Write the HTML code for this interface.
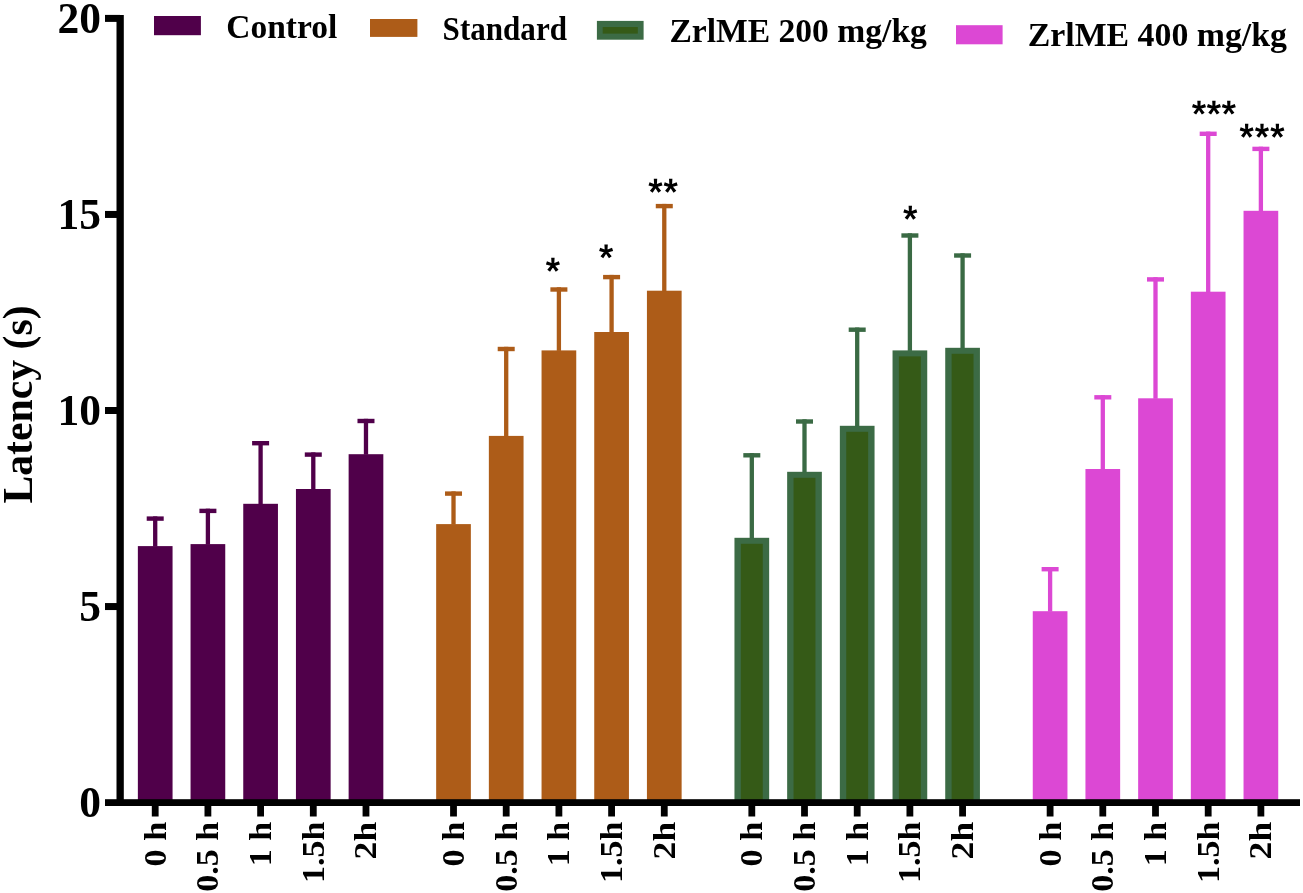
<!DOCTYPE html>
<html><head><meta charset="utf-8"><style>
html,body{margin:0;padding:0;background:#fff;}
svg{display:block;will-change:transform;}
text{font-family:"Liberation Serif",serif;font-weight:bold;fill:#000;}
.yl{font-size:43.5px;}
.xl{font-size:32px;}
.yt{font-size:43px;}
.lg{font-size:33.5px;}
.st{font-family:"Liberation Sans",sans-serif;font-size:37px;}
</style></head><body>
<svg width="1303" height="893" viewBox="0 0 1303 893">
<rect width="1303" height="893" fill="#fff"/>
<rect x="137.86" y="546.10" width="34.7" height="254.10" fill="#50004a"/>
<rect x="153.06" y="516.40" width="4.3" height="30.20" fill="#50004a"/>
<rect x="146.71" y="516.40" width="17" height="4.4" fill="#50004a"/>
<rect x="151.81" y="805.50" width="6.8" height="11.00" fill="#000"/>
<text class="xl" transform="translate(165.61,821.8) rotate(-90)" text-anchor="end" textLength="44.7" lengthAdjust="spacingAndGlyphs">0 h</text>
<rect x="190.55" y="544.10" width="34.7" height="256.10" fill="#50004a"/>
<rect x="205.75" y="508.70" width="4.3" height="35.90" fill="#50004a"/>
<rect x="199.40" y="508.70" width="17" height="4.4" fill="#50004a"/>
<rect x="204.50" y="805.50" width="6.8" height="11.00" fill="#000"/>
<text class="xl" transform="translate(218.30,821.8) rotate(-90)" text-anchor="end" textLength="69.9" lengthAdjust="spacingAndGlyphs">0.5 h</text>
<rect x="243.25" y="503.80" width="34.7" height="296.40" fill="#50004a"/>
<rect x="258.45" y="441.00" width="4.3" height="63.30" fill="#50004a"/>
<rect x="252.10" y="441.00" width="17" height="4.4" fill="#50004a"/>
<rect x="257.20" y="805.50" width="6.8" height="11.00" fill="#000"/>
<text class="xl" transform="translate(271.00,821.8) rotate(-90)" text-anchor="end" textLength="44.4" lengthAdjust="spacingAndGlyphs">1 h</text>
<rect x="295.94" y="489.00" width="34.7" height="311.20" fill="#50004a"/>
<rect x="311.14" y="452.40" width="4.3" height="37.10" fill="#50004a"/>
<rect x="304.79" y="452.40" width="17" height="4.4" fill="#50004a"/>
<rect x="309.89" y="805.50" width="6.8" height="11.00" fill="#000"/>
<text class="xl" transform="translate(323.69,821.8) rotate(-90)" text-anchor="end" textLength="61.1" lengthAdjust="spacingAndGlyphs">1.5h</text>
<rect x="348.63" y="454.20" width="34.7" height="346.00" fill="#50004a"/>
<rect x="363.83" y="418.80" width="4.3" height="35.90" fill="#50004a"/>
<rect x="357.48" y="418.80" width="17" height="4.4" fill="#50004a"/>
<rect x="362.58" y="805.50" width="6.8" height="11.00" fill="#000"/>
<text class="xl" transform="translate(376.38,821.8) rotate(-90)" text-anchor="end" textLength="37.6" lengthAdjust="spacingAndGlyphs">2h</text>
<rect x="436.16" y="524.10" width="34.7" height="276.10" fill="#ad5c18"/>
<rect x="451.36" y="491.40" width="4.3" height="33.20" fill="#ad5c18"/>
<rect x="445.01" y="491.40" width="17" height="4.4" fill="#ad5c18"/>
<rect x="450.11" y="805.50" width="6.8" height="11.00" fill="#000"/>
<text class="xl" transform="translate(463.91,821.8) rotate(-90)" text-anchor="end" textLength="44.7" lengthAdjust="spacingAndGlyphs">0 h</text>
<rect x="488.85" y="435.90" width="34.7" height="364.30" fill="#ad5c18"/>
<rect x="504.05" y="346.80" width="4.3" height="89.60" fill="#ad5c18"/>
<rect x="497.70" y="346.80" width="17" height="4.4" fill="#ad5c18"/>
<rect x="502.80" y="805.50" width="6.8" height="11.00" fill="#000"/>
<text class="xl" transform="translate(516.60,821.8) rotate(-90)" text-anchor="end" textLength="69.9" lengthAdjust="spacingAndGlyphs">0.5 h</text>
<rect x="541.55" y="350.40" width="34.7" height="449.80" fill="#ad5c18"/>
<rect x="556.75" y="287.30" width="4.3" height="63.60" fill="#ad5c18"/>
<rect x="550.40" y="287.30" width="17" height="4.4" fill="#ad5c18"/>
<rect x="555.50" y="805.50" width="6.8" height="11.00" fill="#000"/>
<text class="xl" transform="translate(569.30,821.8) rotate(-90)" text-anchor="end" textLength="44.4" lengthAdjust="spacingAndGlyphs">1 h</text>
<rect x="594.24" y="332.00" width="34.7" height="468.20" fill="#ad5c18"/>
<rect x="609.44" y="274.90" width="4.3" height="57.60" fill="#ad5c18"/>
<rect x="603.09" y="274.90" width="17" height="4.4" fill="#ad5c18"/>
<rect x="608.19" y="805.50" width="6.8" height="11.00" fill="#000"/>
<text class="xl" transform="translate(621.99,821.8) rotate(-90)" text-anchor="end" textLength="61.1" lengthAdjust="spacingAndGlyphs">1.5h</text>
<rect x="646.93" y="290.70" width="34.7" height="509.50" fill="#ad5c18"/>
<rect x="662.13" y="203.90" width="4.3" height="87.30" fill="#ad5c18"/>
<rect x="655.78" y="203.90" width="17" height="4.4" fill="#ad5c18"/>
<rect x="660.88" y="805.50" width="6.8" height="11.00" fill="#000"/>
<text class="xl" transform="translate(674.68,821.8) rotate(-90)" text-anchor="end" textLength="37.6" lengthAdjust="spacingAndGlyphs">2h</text>
<rect x="734.46" y="537.80" width="34.7" height="262.40" fill="#3c6b45"/>
<rect x="740.86" y="543.80" width="21.90" height="256.40" fill="#355a17"/>
<rect x="749.66" y="453.10" width="4.3" height="85.20" fill="#3a6a44"/>
<rect x="743.31" y="453.10" width="17" height="4.4" fill="#3a6a44"/>
<rect x="748.41" y="805.50" width="6.8" height="11.00" fill="#000"/>
<text class="xl" transform="translate(762.21,821.8) rotate(-90)" text-anchor="end" textLength="44.7" lengthAdjust="spacingAndGlyphs">0 h</text>
<rect x="787.15" y="471.80" width="34.7" height="328.40" fill="#3c6b45"/>
<rect x="793.55" y="477.80" width="21.90" height="322.40" fill="#355a17"/>
<rect x="802.35" y="419.30" width="4.3" height="53.00" fill="#3a6a44"/>
<rect x="796.00" y="419.30" width="17" height="4.4" fill="#3a6a44"/>
<rect x="801.10" y="805.50" width="6.8" height="11.00" fill="#000"/>
<text class="xl" transform="translate(814.90,821.8) rotate(-90)" text-anchor="end" textLength="69.9" lengthAdjust="spacingAndGlyphs">0.5 h</text>
<rect x="839.85" y="425.80" width="34.7" height="374.40" fill="#3c6b45"/>
<rect x="846.25" y="431.80" width="21.90" height="368.40" fill="#355a17"/>
<rect x="855.05" y="327.50" width="4.3" height="98.80" fill="#3a6a44"/>
<rect x="848.70" y="327.50" width="17" height="4.4" fill="#3a6a44"/>
<rect x="853.80" y="805.50" width="6.8" height="11.00" fill="#000"/>
<text class="xl" transform="translate(867.60,821.8) rotate(-90)" text-anchor="end" textLength="44.4" lengthAdjust="spacingAndGlyphs">1 h</text>
<rect x="892.54" y="350.40" width="34.7" height="449.80" fill="#3c6b45"/>
<rect x="898.94" y="356.40" width="21.90" height="443.80" fill="#355a17"/>
<rect x="907.74" y="233.30" width="4.3" height="117.60" fill="#3a6a44"/>
<rect x="901.39" y="233.30" width="17" height="4.4" fill="#3a6a44"/>
<rect x="906.49" y="805.50" width="6.8" height="11.00" fill="#000"/>
<text class="xl" transform="translate(920.29,821.8) rotate(-90)" text-anchor="end" textLength="61.1" lengthAdjust="spacingAndGlyphs">1.5h</text>
<rect x="945.23" y="347.80" width="34.7" height="452.40" fill="#3c6b45"/>
<rect x="951.63" y="353.80" width="21.90" height="446.40" fill="#355a17"/>
<rect x="960.43" y="253.30" width="4.3" height="95.00" fill="#3a6a44"/>
<rect x="954.08" y="253.30" width="17" height="4.4" fill="#3a6a44"/>
<rect x="959.18" y="805.50" width="6.8" height="11.00" fill="#000"/>
<text class="xl" transform="translate(972.98,821.8) rotate(-90)" text-anchor="end" textLength="37.6" lengthAdjust="spacingAndGlyphs">2h</text>
<rect x="1032.76" y="611.20" width="34.7" height="189.00" fill="#dc48d4"/>
<rect x="1047.96" y="567.00" width="4.3" height="44.70" fill="#dc48d4"/>
<rect x="1041.61" y="567.00" width="17" height="4.4" fill="#dc48d4"/>
<rect x="1046.71" y="805.50" width="6.8" height="11.00" fill="#000"/>
<text class="xl" transform="translate(1060.51,821.8) rotate(-90)" text-anchor="end" textLength="44.7" lengthAdjust="spacingAndGlyphs">0 h</text>
<rect x="1085.45" y="469.00" width="34.7" height="331.20" fill="#dc48d4"/>
<rect x="1100.65" y="395.10" width="4.3" height="74.40" fill="#dc48d4"/>
<rect x="1094.30" y="395.10" width="17" height="4.4" fill="#dc48d4"/>
<rect x="1099.40" y="805.50" width="6.8" height="11.00" fill="#000"/>
<text class="xl" transform="translate(1113.20,821.8) rotate(-90)" text-anchor="end" textLength="69.9" lengthAdjust="spacingAndGlyphs">0.5 h</text>
<rect x="1138.15" y="398.30" width="34.7" height="401.90" fill="#dc48d4"/>
<rect x="1153.35" y="277.20" width="4.3" height="121.60" fill="#dc48d4"/>
<rect x="1147.00" y="277.20" width="17" height="4.4" fill="#dc48d4"/>
<rect x="1152.10" y="805.50" width="6.8" height="11.00" fill="#000"/>
<text class="xl" transform="translate(1165.90,821.8) rotate(-90)" text-anchor="end" textLength="44.4" lengthAdjust="spacingAndGlyphs">1 h</text>
<rect x="1190.84" y="291.70" width="34.7" height="508.50" fill="#dc48d4"/>
<rect x="1206.04" y="131.60" width="4.3" height="160.60" fill="#dc48d4"/>
<rect x="1199.69" y="131.60" width="17" height="4.4" fill="#dc48d4"/>
<rect x="1204.79" y="805.50" width="6.8" height="11.00" fill="#000"/>
<text class="xl" transform="translate(1218.59,821.8) rotate(-90)" text-anchor="end" textLength="61.1" lengthAdjust="spacingAndGlyphs">1.5h</text>
<rect x="1243.53" y="210.80" width="34.7" height="589.40" fill="#dc48d4"/>
<rect x="1258.73" y="146.70" width="4.3" height="64.60" fill="#dc48d4"/>
<rect x="1252.38" y="146.70" width="17" height="4.4" fill="#dc48d4"/>
<rect x="1257.48" y="805.50" width="6.8" height="11.00" fill="#000"/>
<text class="xl" transform="translate(1271.28,821.8) rotate(-90)" text-anchor="end" textLength="37.6" lengthAdjust="spacingAndGlyphs">2h</text>
<rect x="116.5" y="15" width="7.3" height="791.00" fill="#000"/>
<rect x="105" y="799.20" width="1195" height="6.80" fill="#000"/>
<rect x="105" y="603.05" width="15" height="7" fill="#000"/>
<rect x="105" y="407.00" width="15" height="7" fill="#000"/>
<rect x="105" y="210.95" width="15" height="7" fill="#000"/>
<rect x="105" y="14.90" width="15" height="7" fill="#000"/>
<text class="yl" x="101.0" y="817.30" text-anchor="end">0</text>
<text class="yl" x="101.0" y="621.25" text-anchor="end">5</text>
<text class="yl" x="101.0" y="425.20" text-anchor="end">10</text>
<text class="yl" x="101.0" y="229.15" text-anchor="end">15</text>
<text class="yl" x="101.0" y="33.10" text-anchor="end">20</text>
<text class="yt" transform="translate(31.8,503.6) rotate(-90)" textLength="198.2" lengthAdjust="spacingAndGlyphs">Latency (s)</text>
<rect x="154" y="16" width="46.9" height="19.2" fill="#50004a"/>
<text class="lg" x="226.2" y="37.9">Control</text>
<rect x="370" y="19" width="47.4" height="17.9" fill="#ad5c18"/>
<text class="lg" x="442.6" y="39.6" textLength="124.4" lengthAdjust="spacingAndGlyphs">Standard</text>
<rect x="596.9" y="20.9" width="46.7" height="18.8" fill="#3c6b45"/>
<rect x="602.70" y="27.00" width="35.10" height="6.60" fill="#355a17"/>
<text class="lg" x="669.4" y="41.8" textLength="257.5" lengthAdjust="spacingAndGlyphs">ZrlME 200 mg/kg</text>
<rect x="956" y="25.2" width="46.6" height="19.1" fill="#dc48d4"/>
<text class="lg" x="1027.7" y="46.4" textLength="259.3" lengthAdjust="spacingAndGlyphs">ZrlME 400 mg/kg</text>
<path d="M554.20,264.90 L554.60,257.80 L551.20,257.80 L551.60,264.90ZM553.30,266.14 L559.89,264.42 L558.84,261.18 L552.50,263.66ZM553.30,263.66 L546.96,261.18 L545.91,264.42 L552.50,266.14ZM551.85,265.66 L555.76,271.72 L558.51,269.73 L553.95,264.14ZM551.85,264.14 L547.29,269.73 L550.04,271.72 L553.95,265.66ZM607.40,251.50 L607.80,244.40 L604.40,244.40 L604.80,251.50ZM606.50,252.74 L613.09,251.02 L612.04,247.78 L605.70,250.26ZM606.50,250.26 L600.16,247.78 L599.11,251.02 L605.70,252.74ZM605.05,252.26 L608.96,258.32 L611.71,256.33 L607.15,250.74ZM605.05,250.74 L600.49,256.33 L603.24,258.32 L607.15,252.26ZM656.80,185.90 L657.20,178.80 L653.80,178.80 L654.20,185.90ZM655.90,187.14 L662.49,185.42 L661.44,182.18 L655.10,184.66ZM655.90,184.66 L649.56,182.18 L648.51,185.42 L655.10,187.14ZM654.45,186.66 L658.36,192.72 L661.11,190.73 L656.55,185.14ZM654.45,185.14 L649.89,190.73 L652.64,192.72 L656.55,186.66ZM672.00,185.90 L672.40,178.80 L669.00,178.80 L669.40,185.90ZM671.10,187.14 L677.69,185.42 L676.64,182.18 L670.30,184.66ZM671.10,184.66 L664.76,182.18 L663.71,185.42 L670.30,187.14ZM669.65,186.66 L673.56,192.72 L676.31,190.73 L671.75,185.14ZM669.65,185.14 L665.09,190.73 L667.84,192.72 L671.75,186.66ZM911.60,212.90 L912.00,205.80 L908.60,205.80 L909.00,212.90ZM910.70,214.14 L917.29,212.42 L916.24,209.18 L909.90,211.66ZM910.70,211.66 L904.36,209.18 L903.31,212.42 L909.90,214.14ZM909.25,213.66 L913.16,219.72 L915.91,217.73 L911.35,212.14ZM909.25,212.14 L904.69,217.73 L907.44,219.72 L911.35,213.66ZM1200.30,107.80 L1200.70,100.70 L1197.30,100.70 L1197.70,107.80ZM1199.40,109.04 L1205.99,107.32 L1204.94,104.08 L1198.60,106.56ZM1199.40,106.56 L1193.06,104.08 L1192.01,107.32 L1198.60,109.04ZM1197.95,108.56 L1201.86,114.62 L1204.61,112.63 L1200.05,107.04ZM1197.95,107.04 L1193.39,112.63 L1196.14,114.62 L1200.05,108.56ZM1215.20,107.80 L1215.60,100.70 L1212.20,100.70 L1212.60,107.80ZM1214.30,109.04 L1220.89,107.32 L1219.84,104.08 L1213.50,106.56ZM1214.30,106.56 L1207.96,104.08 L1206.91,107.32 L1213.50,109.04ZM1212.85,108.56 L1216.76,114.62 L1219.51,112.63 L1214.95,107.04ZM1212.85,107.04 L1208.29,112.63 L1211.04,114.62 L1214.95,108.56ZM1230.10,107.80 L1230.50,100.70 L1227.10,100.70 L1227.50,107.80ZM1229.20,109.04 L1235.79,107.32 L1234.74,104.08 L1228.40,106.56ZM1229.20,106.56 L1222.86,104.08 L1221.81,107.32 L1228.40,109.04ZM1227.75,108.56 L1231.66,114.62 L1234.41,112.63 L1229.85,107.04ZM1227.75,107.04 L1223.19,112.63 L1225.94,114.62 L1229.85,108.56ZM1247.95,130.95 L1248.35,123.85 L1244.95,123.85 L1245.35,130.95ZM1247.05,132.19 L1253.64,130.47 L1252.59,127.23 L1246.25,129.71ZM1247.05,129.71 L1240.71,127.23 L1239.66,130.47 L1246.25,132.19ZM1245.60,131.71 L1249.51,137.77 L1252.26,135.78 L1247.70,130.19ZM1245.60,130.19 L1241.04,135.78 L1243.79,137.77 L1247.70,131.71ZM1263.30,130.95 L1263.70,123.85 L1260.30,123.85 L1260.70,130.95ZM1262.40,132.19 L1268.99,130.47 L1267.94,127.23 L1261.60,129.71ZM1262.40,129.71 L1256.06,127.23 L1255.01,130.47 L1261.60,132.19ZM1260.95,131.71 L1264.86,137.77 L1267.61,135.78 L1263.05,130.19ZM1260.95,130.19 L1256.39,135.78 L1259.14,137.77 L1263.05,131.71ZM1278.70,130.95 L1279.10,123.85 L1275.70,123.85 L1276.10,130.95ZM1277.80,132.19 L1284.39,130.47 L1283.34,127.23 L1277.00,129.71ZM1277.80,129.71 L1271.46,127.23 L1270.41,130.47 L1277.00,132.19ZM1276.35,131.71 L1280.26,137.77 L1283.01,135.78 L1278.45,130.19ZM1276.35,130.19 L1271.79,135.78 L1274.54,137.77 L1278.45,131.71Z" fill="#000"/>
</svg>
</body></html>
